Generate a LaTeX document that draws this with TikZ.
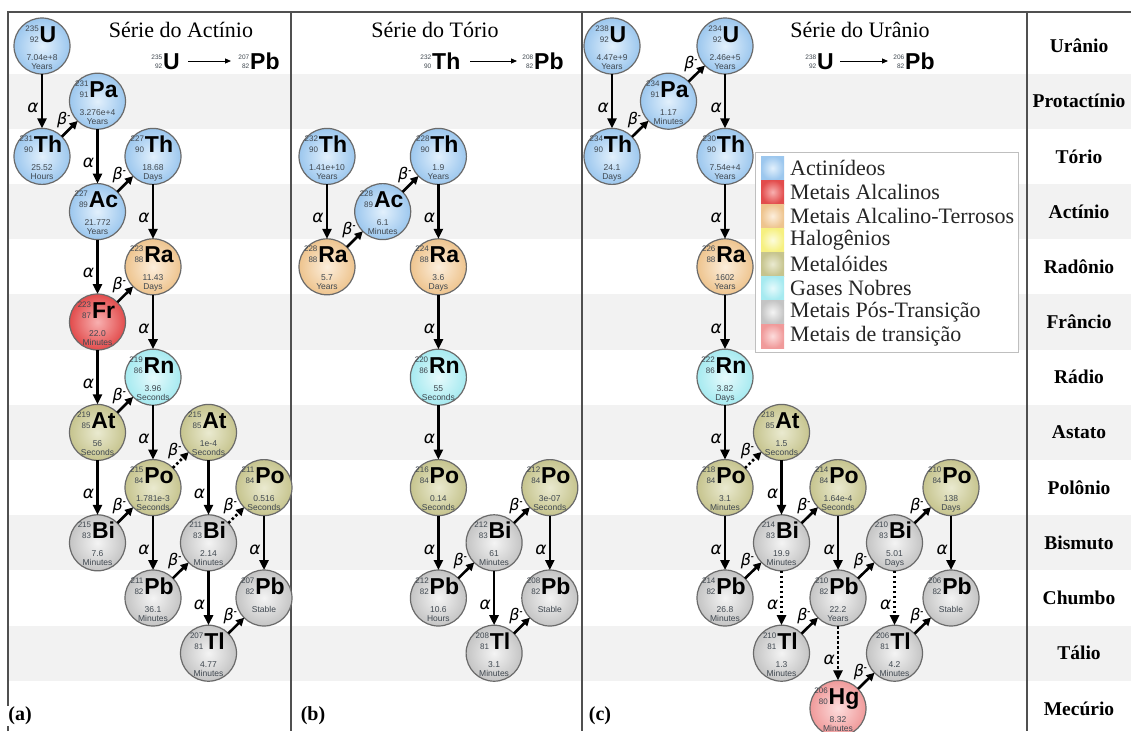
\documentclass[tikz,border=0pt]{standalone}
\usepackage{fontspec}
\setmainfont{Liberation Serif}
\newfontfamily\sansf{Liberation Sans}
\newfontfamily\grkf{DejaVu Sans}
\usetikzlibrary{arrows.meta,calc}

% element families: outer / inner shading colours
\definecolor{actO}{HTML}{9CC7EE}\definecolor{actI}{HTML}{E2F0FC}
\definecolor{alkO}{HTML}{E24C4C}\definecolor{alkI}{HTML}{F8B0B0}
\definecolor{alkeO}{HTML}{EEC48E}\definecolor{alkeI}{HTML}{FCEEDC}
\definecolor{halO}{HTML}{F6F080}\definecolor{halI}{HTML}{FCFCDC}
\definecolor{metO}{HTML}{C6C48E}\definecolor{metI}{HTML}{EAEAD0}
\definecolor{nobO}{HTML}{A6EAF0}\definecolor{nobI}{HTML}{E6FAFC}
\definecolor{postO}{HTML}{C4C4C4}\definecolor{postI}{HTML}{F4F4F4}
\definecolor{transO}{HTML}{F09A9A}\definecolor{transI}{HTML}{FCDCDC}
\definecolor{rim}{HTML}{6A6A6A}
\definecolor{numc}{HTML}{404850}
\definecolor{stripe}{HTML}{F2F2F2}
\definecolor{framec}{HTML}{505050}

\tikzset{
  isoc/.style={circle, minimum size=56pt, inner sep=0pt, outer sep=0pt, draw=rim, line width=1.2pt},
  isoAct/.style={isoc, inner color=actI, outer color=actO},
  isoAlk/.style={isoc, inner color=alkI, outer color=alkO},
  isoAlkE/.style={isoc, inner color=alkeI, outer color=alkeO},
  isoMet/.style={isoc, inner color=metI, outer color=metO},
  isoNob/.style={isoc, inner color=nobI, outer color=nobO},
  isoPost/.style={isoc, inner color=postI, outer color=postO},
  isoTrans/.style={isoc, inner color=transI, outer color=transO},
  symt/.style={inner sep=0pt, anchor=base, font=\sansf\bfseries\fontsize{23}{23}\selectfont},
  numt/.style={inner sep=0pt, anchor=base east, text=numc, font=\sansf\fontsize{8}{8}\selectfont},
  hlt/.style={inner sep=0pt, anchor=base, text=numc, font=\sansf\fontsize{8.5}{8.5}\selectfont},
  aArr/.style={line width=2.6pt, -{Triangle[length=10pt,width=9pt]}},
  bArr/.style={line width=2.6pt, -{Triangle[length=8pt,width=8pt]}},
  dotArr/.style={dash pattern=on 2.5pt off 2.5pt},
  aLab/.style={pos=0.62, left=2pt, inner sep=0pt, font=\grkf\itshape\fontsize{17}{17}\selectfont},
  bLab/.style={pos=0.5, anchor=south east, inner sep=0pt, xshift=2pt, yshift=0pt,
               font=\grkf\itshape\fontsize{16}{16}\selectfont},
  fsym/.style={inner sep=0pt, anchor=base west, font=\sansf\bfseries\fontsize{23}{23}\selectfont},
  fnum/.style={inner sep=0pt, anchor=base east, text=numc, font=\sansf\fontsize{6.5}{6.5}\selectfont},
  fArr/.style={line width=1pt, -{Triangle[length=6pt,width=5pt]}},
  ttl/.style={inner sep=0pt, font=\fontsize{22}{22}\selectfont},
  rowlab/.style={inner sep=0pt, font=\bfseries\fontsize{19.5}{19.5}\selectfont},
  plab/.style={inner sep=1pt, fill=white, font=\bfseries\fontsize{20}{20}\selectfont},
  legt/.style={inner sep=0pt, anchor=west, text=black!85, font=\fontsize{22}{22}\selectfont},
  frame/.style={draw=framec, line width=2pt},
}

% isotope: name, x, row, style, mass, Z, symbol, half-life, unit
\newcommand\iso[9]{%
  \node[#4] (#1) at (#2,{46+55.2*#3}) {};
  \node[symt] (#1s) at ($(#1.center)+(6,-4)$) {#7};
  \node[numt] (#1m) at ($(#1s.base west)+(-0.5,-11)$) {#5};
  \node[numt] (#1z) at ($(#1s.base west)+(-0.5,0)$) {#6};
  \node[hlt] (#1h) at ($(#1.center)+(0,14)$) {#8};
  \node[hlt] (#1u) at ($(#1.center)+(0,23)$) {#9};
}
\newcommand\betalab{β\raisebox{6pt}{\sansf\bfseries\fontsize{9}{9}\selectfont -}}
\newcommand\adec[2]{\draw[aArr] (#1) -- node[aLab] (#1#2l) {α} (#2);}
\newcommand\adecd[2]{\draw[aArr,dotArr] (#1) -- node[aLab] (#1#2l) {α} (#2);}
\newcommand\bdec[2]{\draw[bArr] (#1) -- node[bLab] (#1#2l) {\betalab} (#2);}
\newcommand\bdecd[2]{\draw[bArr,dotArr] (#1) -- node[bLab] (#1#2l) {\betalab} (#2);}

\begin{document}
\begin{tikzpicture}[x=1pt, y=-1pt]
\useasboundingbox (0,0) rectangle (1131,731);
\fill[white] (0,0) rectangle (1131,731);

% alternating element rows
\foreach \r in {1,3,...,11}
  \fill[stripe] (8,{46+55.2*\r-27.6}) rectangle (1131,{46+55.2*\r+27.6});

% frame and panel dividers
\draw[frame] (8,731) -- (8,12) -- (1131,12);
\draw[frame] (291,12) -- (291,731);
\draw[frame] (582,12) -- (582,731);
\draw[frame] (1027,12) -- (1027,731);

% element names
\foreach \t [count=\i from 0] in {Urânio,Protactínio,Tório,Actínio,Radônio,Frâncio,Rádio,Astato,Polônio,Bismuto,Chumbo,Tálio,Mecúrio}
  \node[rowlab] (row\i) at (1079,{46+55.2*\i}) {\t};

% titles and overall reactions
\node[ttl] (titA) at (181,30) {Série do Actínio};
\node[ttl] (titB) at (435,30) {Série do Tório};
\node[ttl] (titC) at (860,30) {Série do Urânio};

\node[fsym] (hAu) at (163,69) {U};
\node[fnum] (hAum) at ($(hAu.base west)+(-0.5,-10)$) {235};
\node[fnum] (hAuz) at ($(hAu.base west)+(-0.5,-1)$) {92};
\node[fsym] (hAp) at (250,69) {Pb};
\node[fnum] (hApm) at ($(hAp.base west)+(-0.5,-10)$) {207};
\node[fnum] (hApz) at ($(hAp.base west)+(-0.5,-1)$) {82};
\coordinate (hAa1) at (188,61); \coordinate (hAa2) at (231,61);
\draw[fArr] (hAa1) -- (hAa2);

\node[fsym] (hBt) at (432,69) {Th};
\node[fnum] (hBtm) at ($(hBt.base west)+(-0.5,-10)$) {232};
\node[fnum] (hBtz) at ($(hBt.base west)+(-0.5,-1)$) {90};
\node[fsym] (hBp) at (534,69) {Pb};
\node[fnum] (hBpm) at ($(hBp.base west)+(-0.5,-10)$) {208};
\node[fnum] (hBpz) at ($(hBp.base west)+(-0.5,-1)$) {82};
\coordinate (hBa1) at (470,61); \coordinate (hBa2) at (517,61);
\draw[fArr] (hBa1) -- (hBa2);

\node[fsym] (hCu) at (817,69) {U};
\node[fnum] (hCum) at ($(hCu.base west)+(-0.5,-10)$) {238};
\node[fnum] (hCuz) at ($(hCu.base west)+(-0.5,-1)$) {92};
\node[fsym] (hCp) at (905,69) {Pb};
\node[fnum] (hCpm) at ($(hCp.base west)+(-0.5,-10)$) {206};
\node[fnum] (hCpz) at ($(hCp.base west)+(-0.5,-1)$) {82};
\coordinate (hCa1) at (840,61); \coordinate (hCa2) at (888,61);
\draw[fArr] (hCa1) -- (hCa2);

% ---- actinium series
\iso{aU235}{42}{0}{isoAct}{235}{92}{U}{7.04e+8}{Years}
\iso{aPa231}{97.5}{1}{isoAct}{231}{91}{Pa}{3.276e+4}{Years}
\iso{aTh231}{42}{2}{isoAct}{231}{90}{Th}{25.52}{Hours}
\iso{aTh227}{153}{2}{isoAct}{227}{90}{Th}{18.68}{Days}
\iso{aAc227}{97.5}{3}{isoAct}{227}{89}{Ac}{21.772}{Years}
\iso{aRa223}{153}{4}{isoAlkE}{223}{88}{Ra}{11.43}{Days}
\iso{aFr223}{97.5}{5}{isoAlk}{223}{87}{Fr}{22.0}{Minutes}
\iso{aRn219}{153}{6}{isoNob}{219}{86}{Rn}{3.96}{Seconds}
\iso{aAt219}{97.5}{7}{isoMet}{219}{85}{At}{56}{Seconds}
\iso{aAt215}{208.5}{7}{isoMet}{215}{85}{At}{1e-4}{Seconds}
\iso{aPo215}{153}{8}{isoMet}{215}{84}{Po}{1.781e-3}{Seconds}
\iso{aPo211}{264}{8}{isoMet}{211}{84}{Po}{0.516}{Seconds}
\iso{aBi215}{97.5}{9}{isoPost}{215}{83}{Bi}{7.6}{Minutes}
\iso{aBi211}{208.5}{9}{isoPost}{211}{83}{Bi}{2.14}{Minutes}
\iso{aPb211}{153}{10}{isoPost}{211}{82}{Pb}{36.1}{Minutes}
\iso{aPb207}{264}{10}{isoPost}{207}{82}{Pb}{Stable}{}
\iso{aTl207}{208.5}{11}{isoPost}{207}{81}{Tl}{4.77}{Minutes}

\adec{aU235}{aTh231}
\bdec{aTh231}{aPa231}
\adec{aPa231}{aAc227}
\bdec{aAc227}{aTh227}
\adec{aAc227}{aFr223}
\adec{aTh227}{aRa223}
\bdec{aFr223}{aRa223}
\adec{aRa223}{aRn219}
\adec{aFr223}{aAt219}
\bdec{aAt219}{aRn219}
\adec{aRn219}{aPo215}
\bdecd{aPo215}{aAt215}
\adec{aAt219}{aBi215}
\bdec{aBi215}{aPo215}
\adec{aAt215}{aBi211}
\adec{aPo215}{aPb211}
\bdec{aPb211}{aBi211}
\bdecd{aBi211}{aPo211}
\adec{aBi211}{aTl207}
\adec{aPo211}{aPb207}
\bdec{aTl207}{aPb207}

% ---- thorium series
\iso{bTh232}{327}{2}{isoAct}{232}{90}{Th}{1.41e+10}{Years}
\iso{bAc228}{382.7}{3}{isoAct}{228}{89}{Ac}{6.1}{Minutes}
\iso{bTh228}{438.4}{2}{isoAct}{228}{90}{Th}{1.9}{Years}
\iso{bRa228}{327}{4}{isoAlkE}{228}{88}{Ra}{5.7}{Years}
\iso{bRa224}{438.4}{4}{isoAlkE}{224}{88}{Ra}{3.6}{Days}
\iso{bRn220}{438.4}{6}{isoNob}{220}{86}{Rn}{55}{Seconds}
\iso{bPo216}{438.4}{8}{isoMet}{216}{84}{Po}{0.14}{Seconds}
\iso{bPo212}{549.8}{8}{isoMet}{212}{84}{Po}{3e-07}{Seconds}
\iso{bBi212}{494.1}{9}{isoPost}{212}{83}{Bi}{61}{Minutes}
\iso{bPb212}{438.4}{10}{isoPost}{212}{82}{Pb}{10.6}{Hours}
\iso{bPb208}{549.8}{10}{isoPost}{208}{82}{Pb}{Stable}{}
\iso{bTl208}{494.1}{11}{isoPost}{208}{81}{Tl}{3.1}{Minutes}

\adec{bTh232}{bRa228}
\bdec{bRa228}{bAc228}
\bdec{bAc228}{bTh228}
\adec{bTh228}{bRa224}
\adec{bRa224}{bRn220}
\adec{bRn220}{bPo216}
\adec{bPo216}{bPb212}
\bdec{bPb212}{bBi212}
\bdec{bBi212}{bPo212}
\adec{bBi212}{bTl208}
\adec{bPo212}{bPb208}
\bdec{bTl208}{bPb208}

% ---- uranium series
\iso{cU238}{612}{0}{isoAct}{238}{92}{U}{4.47e+9}{Years}
\iso{cPa234}{668.5}{1}{isoAct}{234}{91}{Pa}{1.17}{Minutes}
\iso{cU234}{725}{0}{isoAct}{234}{92}{U}{2.46e+5}{Years}
\iso{cTh234}{612}{2}{isoAct}{234}{90}{Th}{24.1}{Days}
\iso{cTh230}{725}{2}{isoAct}{230}{90}{Th}{7.54e+4}{Years}
\iso{cRa226}{725}{4}{isoAlkE}{226}{88}{Ra}{1602}{Years}
\iso{cRn222}{725}{6}{isoNob}{222}{86}{Rn}{3.82}{Days}
\iso{cAt218}{781.5}{7}{isoMet}{218}{85}{At}{1.5}{Seconds}
\iso{cPo218}{725}{8}{isoMet}{218}{84}{Po}{3.1}{Minutes}
\iso{cPo214}{838}{8}{isoMet}{214}{84}{Po}{1.64e-4}{Seconds}
\iso{cPo210}{951}{8}{isoMet}{210}{84}{Po}{138}{Days}
\iso{cBi214}{781.5}{9}{isoPost}{214}{83}{Bi}{19.9}{Minutes}
\iso{cBi210}{894.5}{9}{isoPost}{210}{83}{Bi}{5.01}{Days}
\iso{cPb214}{725}{10}{isoPost}{214}{82}{Pb}{26.8}{Minutes}
\iso{cPb210}{838}{10}{isoPost}{210}{82}{Pb}{22.2}{Years}
\iso{cPb206}{951}{10}{isoPost}{206}{82}{Pb}{Stable}{}
\iso{cTl210}{781.5}{11}{isoPost}{210}{81}{Tl}{1.3}{Minutes}
\iso{cTl206}{894.5}{11}{isoPost}{206}{81}{Tl}{4.2}{Minutes}
\iso{cHg206}{838}{12}{isoTrans}{206}{80}{Hg}{8.32}{Minutes}

\adec{cU238}{cTh234}
\bdec{cTh234}{cPa234}
\bdec{cPa234}{cU234}
\adec{cU234}{cTh230}
\adec{cTh230}{cRa226}
\adec{cRa226}{cRn222}
\adec{cRn222}{cPo218}
\bdecd{cPo218}{cAt218}
\adec{cAt218}{cBi214}
\adec{cPo218}{cPb214}
\bdec{cPb214}{cBi214}
\bdec{cBi214}{cPo214}
\adecd{cBi214}{cTl210}
\adec{cPo214}{cPb210}
\bdec{cTl210}{cPb210}
\bdec{cPb210}{cBi210}
\adecd{cPb210}{cHg206}
\bdec{cHg206}{cTl206}
\bdec{cBi210}{cPo210}
\adecd{cBi210}{cTl206}
\adec{cPo210}{cPb206}
\bdec{cTl206}{cPb206}

% ---- legend
\draw[draw=black!25, fill=white, line width=1pt] (755,152) rectangle (1018,352);
\foreach \cc/\t [count=\i from 0] in {act/Actinídeos, alk/Metais Alcalinos, alke/Metais Alcalino-Terrosos, hal/Halogênios, met/Metalóides, nob/Gases Nobres, post/Metais Pós-Transição, trans/Metais de transição}{
  \fill[inner color=\cc I, outer color=\cc O] (761,{156+24*\i}) rectangle (784,{180+24*\i});
  \node[legt] (leg\i) at (790,{168+24*\i}) {\t};
}

% panel letters
\node[plab] (pa) at (20,716) {(a)};
\node[plab] (pb) at (313,716) {(b)};
\node[plab] (pc) at (600,716) {(c)};
\end{tikzpicture}
\end{document}
